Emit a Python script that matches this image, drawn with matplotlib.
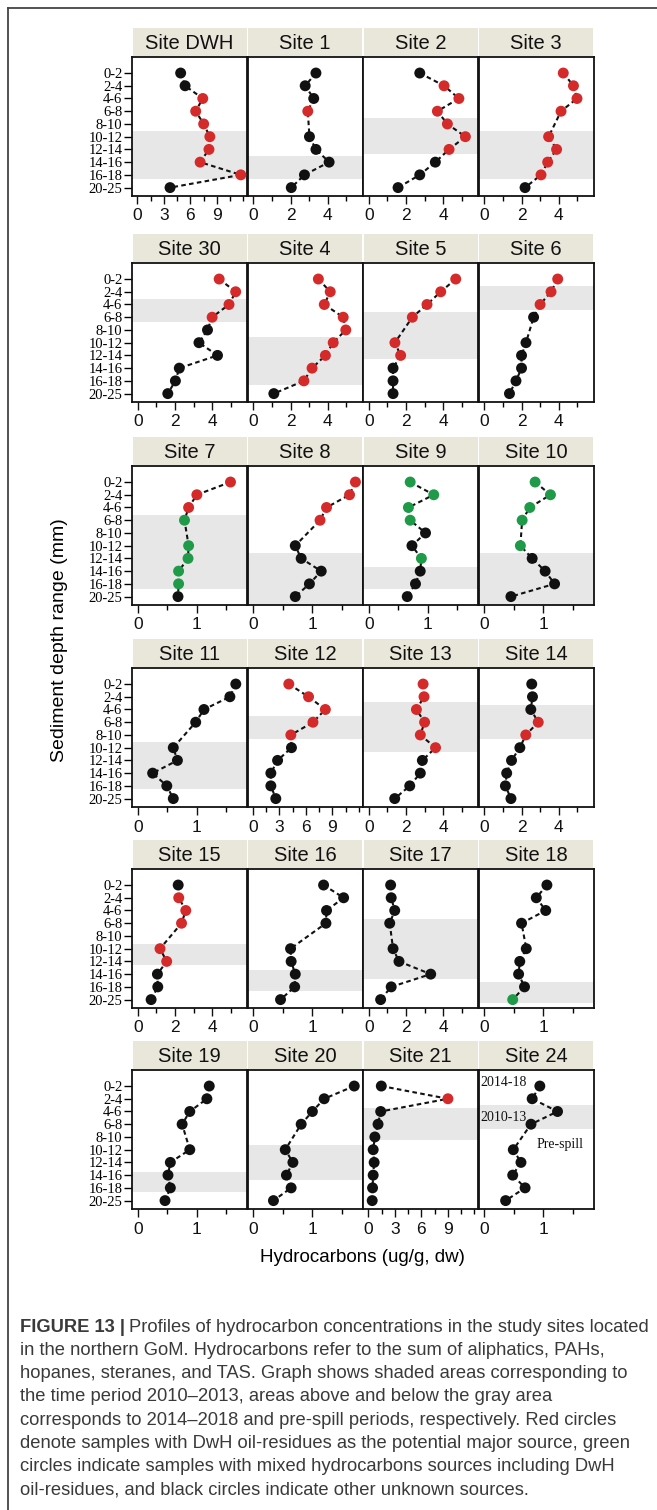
import numpy as np, matplotlib
matplotlib.use('Agg')
import matplotlib.pyplot as plt
from matplotlib.lines import Line2D
from matplotlib.ticker import MultipleLocator

nan = np.nan
depths = ['0-2', '2-4', '4-6', '6-8', '8-10', '10-12', '12-14', '14-16', '16-18', '20-25']

sites = ['Site DWH', 'Site 1', 'Site 2', 'Site 3',
         'Site 30', 'Site 4', 'Site 5', 'Site 6',
         'Site 7', 'Site 8', 'Site 9', 'Site 10',
         'Site 11', 'Site 12', 'Site 13', 'Site 14',
         'Site 15', 'Site 16', 'Site 17', 'Site 18',
         'Site 19', 'Site 20', 'Site 21', 'Site 24']

# hydrocarbons (ug/g dw) per depth slice, nan = no sample
hc_dwh = [4.9, 5.4, 7.4, 6.6, 7.5, 8.2, 8.1, 7.1, 11.7, 3.7]
hc_1 = [3.37, 2.79, 3.25, 2.93, nan, 3.02, 3.37, 4.08, 2.75, 2.04]
hc_2 = [2.74, 4.05, 4.85, 3.69, 4.23, 5.2, 4.32, 3.58, 2.74, 1.57]
hc_3 = [4.25, 4.8, 4.99, 4.13, nan, 3.46, 3.89, 3.41, 3.05, 2.19]
hc_30 = [4.38, 5.27, 4.91, 4.0, 3.75, 3.29, 4.29, 2.23, 2.02, 1.61]
hc_4 = [3.5, 4.14, 3.82, 4.84, 4.98, 4.3, 3.88, 3.16, 2.72, 1.1]
hc_5 = [4.68, 3.87, 3.13, 2.34, nan, 1.4, 1.71, 1.3, 1.3, 1.3]
hc_6 = [3.95, 3.59, 3.0, 2.65, nan, 2.24, 2.0, 2.0, 1.7, 1.35]
hc_7 = [1.57, 1.0, 0.86, 0.79, nan, 0.86, 0.85, 0.69, 0.69, 0.68]
hc_8 = [1.73, 1.63, 1.24, 1.13, nan, 0.71, 0.81, 1.15, 0.95, 0.71]
hc_9 = [0.70, 1.10, 0.67, 0.70, 0.96, 0.73, 0.89, 0.87, 0.79, 0.65]
hc_10 = [0.86, 1.12, 0.77, 0.64, nan, 0.61, 0.81, 1.03, 1.19, 0.45]
hc_11 = [1.66, 1.56, 1.12, 0.98, nan, 0.60, 0.67, 0.25, 0.49, 0.60]
hc_12 = [4.07, 6.3, 8.2, 6.8, 4.3, 4.37, 2.8, 2.04, 2.04, 2.6]
hc_13 = [2.92, 2.97, 2.56, 3.0, 2.77, 3.59, 2.88, 2.77, 2.2, 1.39]
hc_14 = [2.55, 2.59, 2.5, 2.9, 2.23, 1.91, 1.46, 1.2, 1.13, 1.43]
hc_15 = [2.17, 2.2, 2.58, 2.35, nan, 1.19, 1.55, 1.05, 1.07, 0.71]
hc_16 = [1.19, 1.53, 1.24, 1.23, nan, 0.63, 0.64, 0.71, 0.70, 0.46]
hc_17 = [1.17, 1.2, 1.39, 1.12, nan, 1.3, 1.62, 3.33, 1.2, 0.63]
hc_18 = [1.06, 0.88, 1.04, 0.63, nan, 0.71, 0.60, 0.58, 0.68, 0.48]
hc_19 = [1.21, 1.17, 0.88, 0.75, nan, 0.88, 0.55, 0.51, 0.55, 0.46]
hc_20 = [1.71, 1.20, 1.0, 0.81, nan, 0.54, 0.67, 0.56, 0.64, 0.34]
hc_21 = [1.47, 9.0, 1.4, 1.1, 0.74, 0.55, 0.66, 0.55, 0.48, 0.44]
hc_24 = [0.94, 0.81, 1.24, 0.79, nan, 0.49, 0.62, 0.48, 0.69, 0.36]
values = [hc_dwh, hc_1, hc_2, hc_3, hc_30, hc_4, hc_5, hc_6, hc_7, hc_8, hc_9, hc_10,
          hc_11, hc_12, hc_13, hc_14, hc_15, hc_16, hc_17, hc_18, hc_19, hc_20, hc_21, hc_24]

# source: r = DwH oil residue, g = mixed, k = unknown, - = no sample
sources = ['kkrrrrrrrk', 'kkkr-kkkkk', 'krrrrrrkkk', 'rrrr-rrrrk',
           'rrrrkkkkkk', 'rrrrrrrrrk', 'rrrr-rrkkk', 'rrrk-kkkkk',
           'rrrg-ggggk', 'rrrr-kkkkk', 'ggggkkgkkk', 'gggg-gkkkk',
           'kkkk-kkkkk', 'rrrrrkkkkk', 'rrrrrrkkkk', 'kkkrrkkkkk',
           'krrr-rrkkk', 'kkkk-kkkkk', 'kkkk-kkkkk', 'kkkk-kkkkg',
           'kkkk-kkkkk', 'kkkk-kkkkk', 'krkkkkkkkk', 'kkkk-kkkkk']

# 2010-2013 shaded period, in depth-slice index units
band_top = [4.53, 6.55, 3.53, 4.58, 1.59, 4.58, 2.59, 0.53, 2.62, 5.6, 6.67, 5.6,
            4.55, 2.53, 1.45, 1.63, 4.6, 6.66, 2.63, 7.63, 6.74, 4.65, 1.75, 1.51]
band_bot = [8.34, 8.29, 6.37, 8.34, 3.36, 8.33, 6.3, 2.46, 8.4, 9.8, 8.37, 9.8,
            8.27, 4.34, 5.37, 4.34, 6.26, 8.34, 7.37, 9.28, 8.36, 7.36, 4.23, 3.39]

# x tick step of each panel (sets the axis range too)
tick_step = [3, 2, 2, 2, 2, 2, 2, 2, 1, 1, 1, 1, 1, 3, 2, 2, 2, 1, 2, 1, 1, 1, 3, 1]
xranges = {1: (-0.1, 1.85), 2: (-0.32, 5.88), 3: (-0.6, 12.4)}

colors = {'r': '#d42a2a', 'g': '#1f9a48', 'k': '#111111'}
SANS = 'Liberation Sans'
SERIF = 'Liberation Serif'

W, H = 657, 1510
fig = plt.figure(figsize=(W / 100, H / 100), dpi=100)

def box(x0, y0, w, h):
    return [x0 / W, 1 - (y0 + h) / H, w / W, h / H]

col_x = [132, 247.5, 363, 478.5]
row_y = [28, 234, 437, 639, 840, 1041]
pw, sh, ph = 115, 29, 139

for i, name in enumerate(sites):
    r, c = divmod(i, 4)
    ax = fig.add_axes(box(col_x[c], row_y[r] + sh, pw, ph))
    ax.axhspan(band_top[i], band_bot[i], color='#e7e7e7', lw=0, zorder=0)
    v = np.array(values[i], float)
    y = np.arange(len(depths))
    ok = ~np.isnan(v)
    ax.plot(v[ok], y[ok], ls=(0, (2.2, 1.6)), color='#111', lw=1.5, zorder=2)
    ax.scatter(v[ok], y[ok], s=62, c=[colors[s] for s, k in zip(sources[i], ok) if k],
               linewidths=0, zorder=3)
    st = tick_step[i]
    xr = xranges[st]
    ax.set_ylim(9.66, -1.26)
    ax.set_xlim(*xr)
    ax.xaxis.set_minor_locator(MultipleLocator(st / 2))
    ax.set_xticks([t for t in np.arange(0, 4 * st, st) if t < xr[1]])
    ax.tick_params(axis='x', which='major', direction='out', length=6, width=1,
                   labelsize=12.5, pad=3, colors='#111')
    ax.tick_params(axis='x', which='minor', direction='out', length=3.5, width=1)
    for lb in ax.get_xticklabels():
        lb.set_family(SANS)
    ax.set_yticks(y)
    if c == 0:
        ax.set_yticklabels(depths, family=SERIF, fontsize=10.5)
        ax.tick_params(axis='y', direction='out', length=6, width=1, pad=1)
    else:
        ax.tick_params(axis='y', length=0, labelleft=False)
    for sp in ax.spines.values():
        sp.set_linewidth(1.3)
        sp.set_color('#111')

    sax = fig.add_axes(box(col_x[c] + 0.5, row_y[r], pw - 1, sh - 1))
    sax.set_facecolor('#e9e6da')
    sax.set_xticks([]); sax.set_yticks([])
    for sp in sax.spines.values():
        sp.set_visible(False)
    sax.text(0.5, 0.46, name, ha='center', va='center', fontsize=14.5, color='#111',
             family=SANS, transform=sax.transAxes)

    if name == 'Site 24':
        kw = dict(family=SERIF, fontsize=10, color='#111', va='center', zorder=4)
        ax.text(-0.06, -0.26, '2014-18', **kw)
        ax.text(-0.07, 2.48, '2010-13', **kw)
        ax.text(0.88, 4.57, 'Pre-spill', **kw)

fig.text(362 / W, 1 - 1258 / H, 'Hydrocarbons (ug/g, dw)', ha='center', va='center',
         fontsize=13.5, family=SANS)
fig.text(60 / W, 1 - 640 / H, 'Sediment depth range (mm)', ha='center', va='center',
         rotation=90, fontsize=14, family=SANS)

# outer frame of the figure panel
fig.add_artist(Line2D([8 / W, 8 / W], [0, 1 - 8 / H], color='#444', lw=1.3))
fig.add_artist(Line2D([8 / W, 1], [1 - 8 / H, 1 - 8 / H], color='#444', lw=1.3))

cap_lines = [
    'Profiles of hydrocarbon concentrations in the study sites located',
    'in the northern GoM. Hydrocarbons refer to the sum of aliphatics, PAHs,',
    'hopanes, steranes, and TAS. Graph shows shaded areas corresponding to',
    'the time period 2010\u20132013, areas above and below the gray area',
    'corresponds to 2014\u20132018 and pre-spill periods, respectively. Red circles',
    'denote samples with DwH oil-residues as the potential major source, green',
    'circles indicate samples with mixed hydrocarbons sources including DwH',
    'oil-residues, and black circles indicate other unknown sources.',
]
cap_kw = dict(fontsize=13.2, color='#3a3a3a', va='center', family=SANS)
cy0, dy = 1327, 23.3
bold = fig.text(20 / W, 1 - cy0 / H, 'FIGURE 13 |', fontweight='bold', **cap_kw)
fig.canvas.draw()
bb = bold.get_window_extent(fig.canvas.get_renderer())
fig.text((bb.x1 + 4) / W, 1 - cy0 / H, cap_lines[0], **cap_kw)
for k, line in enumerate(cap_lines[1:], start=1):
    fig.text(20 / W, 1 - (cy0 + k * dy) / H, line, **cap_kw)

fig.savefig('out.png', dpi=100)
